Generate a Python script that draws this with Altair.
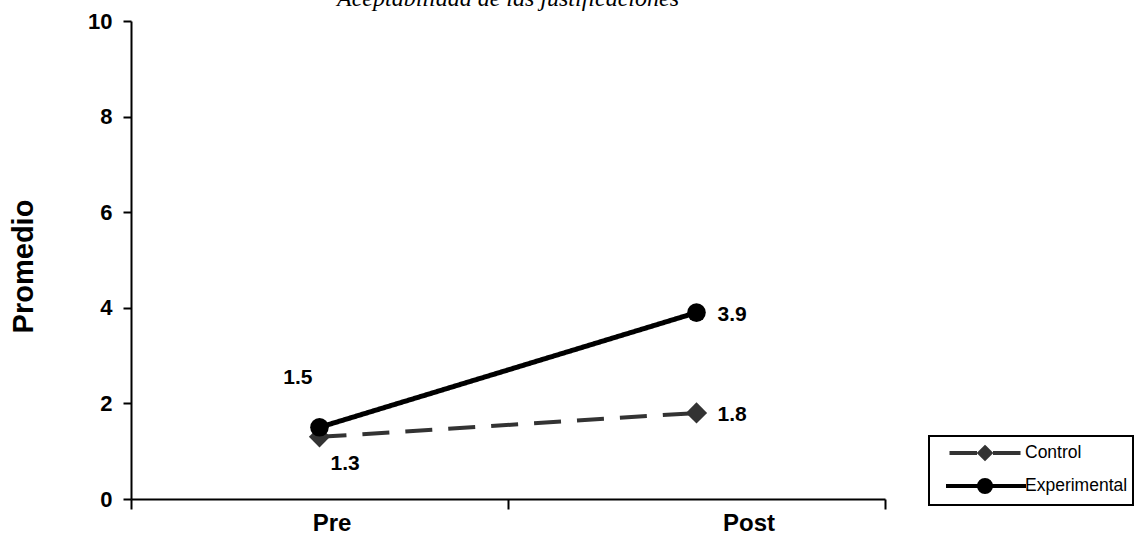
import altair as alt
import pandas as pd

# Mean acceptability scores, before and after, by group
titulo = "Aceptabilidad de las justificaciones"
periodos = ["Pre", "Post"]
grupos = ["Control", "Experimental"]
control = [1.3, 1.8]
experimental = [1.5, 3.9]

filas = []
for grupo, valores in zip(grupos, [control, experimental]):
    for periodo, valor in zip(periodos, valores):
        filas.append({"periodo": periodo, "grupo": grupo, "valor": valor})
df = pd.DataFrame(filas)

colores = ["#333333", "#000000"]
fuente = "Liberation Sans"
es_exp = alt.datum.grupo == "Experimental"

ANCHO, ALTO = 754, 478

x = alt.X(
    "periodo:N",
    sort=periodos,
    scale=alt.Scale(type="band", domain=periodos, paddingInner=0, paddingOuter=0),
    axis=alt.Axis(
        title=None,
        tickBand="extent",
        tickSize=10,
        labelAngle=0,
        labelFontSize=24,
        labelFontWeight="bold",
        labelPadding=2,
        labelBaseline="top",
        labelOffset={"condition": {"test": "datum.value === 'Pre'", "value": 12}, "value": 52},
    ),
)
y = alt.Y(
    "valor:Q",
    scale=alt.Scale(domain=[0, 10]),
    axis=alt.Axis(
        title="Promedio",
        values=[0, 2, 4, 6, 8, 10],
        tickSize=8,
        labelPadding=11,
        labelFontSize=22,
        labelFontWeight="bold",
        titleFontSize=29,
        titleFontWeight="bold",
        titleAngle=270,
        titleX=-108,
        titleY=245,
        titleAlign="center",
        titleBaseline="middle",
    ),
)

base = alt.Chart(df)

lineas = base.mark_line().encode(
    x=x,
    y=y,
    detail="grupo:N",
    color=alt.condition(es_exp, alt.value(colores[1]), alt.value(colores[0])),
    strokeDash=alt.condition(es_exp, alt.value([1, 0]), alt.value([27, 16])),
    strokeWidth=alt.condition(es_exp, alt.value(5), alt.value(4)),
)

puntos_control = base.transform_filter(alt.datum.grupo == "Control").mark_point(
    shape="diamond", filled=True, size=450, opacity=1, color=colores[0]
).encode(x=x, y=y)

puntos_exp = base.transform_filter(es_exp).mark_point(
    shape="circle", filled=True, size=346, opacity=1, color=colores[1]
).encode(x=x, y=y)

estilo_texto = dict(font=fuente, fontSize=21, fontWeight="bold", color="black", baseline="alphabetic")
texto = alt.Text("valor:Q", format=".1f")

etiquetas_post = base.transform_filter(alt.datum.periodo == "Post").mark_text(
    align="left", dx=21, dy=8, **estilo_texto
).encode(x=x, y=y, text=texto)

etiqueta_pre_exp = base.transform_filter(
    (alt.datum.periodo == "Pre") & es_exp
).mark_text(align="right", dx=-7, dy=-43, **estilo_texto).encode(x=x, y=y, text=texto)

etiqueta_pre_control = base.transform_filter(
    (alt.datum.periodo == "Pre") & (alt.datum.grupo == "Control")
).mark_text(align="left", dx=11, dy=33, **estilo_texto).encode(x=x, y=y, text=texto)

# Heading, set just above the plot frame
encabezado = alt.Chart(pd.DataFrame({"titulo": [titulo]})).mark_text(
    font="Liberation Serif",
    fontStyle="italic",
    fontSize=24,
    color="black",
    align="center",
    baseline="alphabetic",
).encode(x=alt.value(ANCHO / 2), y=alt.value(-15), text="titulo:N")

# Legend glyphs: a line segment with the series marker in its middle
ruta_control = "M-3.55,0H-0.8M0.8,0H3.55M0,-0.55L0.55,0L0,0.55L-0.55,0Z"
ruta_exp = "M-3.9,0H4.1M-0.6,0A0.6,0.6,0,1,0,0.6,0A0.6,0.6,0,1,0,-0.6,0Z"

leyenda_cfg = dict(
    title=None,
    orient="none",
    legendX=798,
    legendY=415,
    symbolSize=400,
    symbolStrokeWidth=4,
    symbolOpacity=1,
    symbolOffset=39,
    labelOffset=28,
    padding=5,
    rowPadding=5,
    labelFont=fuente,
    labelFontSize=17.5,
    labelColor="black",
    strokeColor="black",
    fillColor="white",
)

# Legend-only layer: no rows reach it, the scales' fixed domains feed the legend
leyenda = base.transform_filter("false").mark_point(filled=True).encode(
    x=x,
    y=y,
    fill=alt.Fill("grupo:N", scale=alt.Scale(domain=grupos, range=colores), legend=alt.Legend(**leyenda_cfg)),
    stroke=alt.Stroke("grupo:N", scale=alt.Scale(domain=grupos, range=colores), legend=alt.Legend(**leyenda_cfg)),
    shape=alt.Shape(
        "grupo:N",
        scale=alt.Scale(domain=grupos, range=[ruta_control, ruta_exp]),
        legend=alt.Legend(**leyenda_cfg),
    ),
)

chart = (
    alt.layer(
        lineas,
        puntos_control,
        puntos_exp,
        etiquetas_post,
        etiqueta_pre_exp,
        etiqueta_pre_control,
        encabezado,
        leyenda,
    )
    .properties(
        width=ANCHO,
        height=ALTO,
        autosize=alt.AutoSizeParams(type="none"),
        padding={"left": 131, "top": 21, "right": 260, "bottom": 37},
    )
    .configure_view(stroke=None)
    .configure_axis(
        grid=False,
        domainColor="black",
        domainWidth=2,
        tickColor="black",
        tickWidth=2,
        labelColor="black",
        titleColor="black",
        labelFont=fuente,
        titleFont=fuente,
    )
    .configure_legend(strokeWidth=2)
)

chart.save("out.html", embed_options={"renderer": "svg", "actions": False})
